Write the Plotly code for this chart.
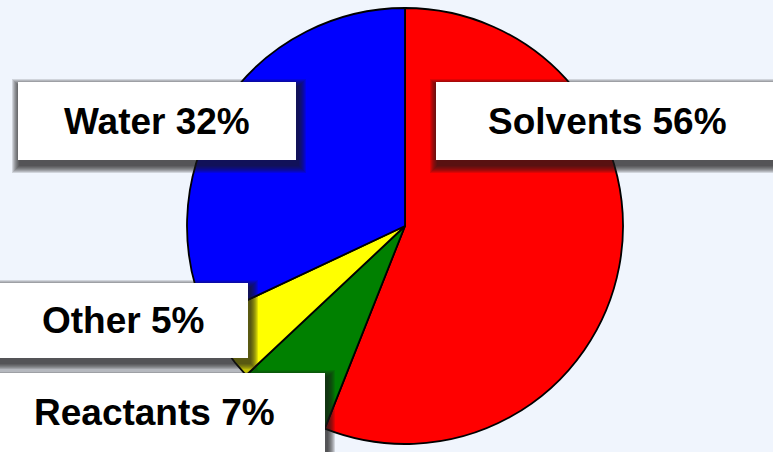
import plotly.graph_objects as go

# Share of each waste stream (percent)
categories = ["Solvents", "Reactants", "Other", "Water"]
shares = [56, 7, 5, 32]

slice_colors = ["#FF0000", "#008000", "#FFFF00", "#0000FF"]

W, H = 773, 452
BG = "#F0F5FD"


def px(x):
    return x / W


def py(y):
    return 1 - y / H


fig = go.Figure(
    go.Pie(
        labels=categories,
        values=shares,
        sort=False,
        direction="clockwise",
        rotation=0,
        textinfo="none",
        marker=dict(colors=slice_colors, line=dict(color="black", width=1.8)),
        domain=dict(x=[px(187), px(623)], y=[py(444), py(8)]),
        showlegend=False,
    )
)

# Callout boxes: (left, top, right, bottom) in pixels, text centre
boxes = {
    "Water": ((18, 82, 296, 160), (157, 121)),
    "Solvents": ((436, 82, 790, 160), (607, 121)),
    "Other": ((-20, 283, 248, 358), (123, 320)),
    "Reactants": ((-20, 373, 325, 470), (154, 412)),
}

shapes = []
annotations = []
for cat, val in zip(categories, shares):
    (x0, y0, x1, y1), (tx, ty) = boxes[cat]
    # soft drop shadow built from stacked translucent rectangles
    for k in range(8):
        g = 8 - k
        shapes.append(dict(
            type="rect", xref="paper", yref="paper", layer="above",
            x0=px(x0 - g + 2), x1=px(x1 + g + 2),
            y0=py(y1 + g + 5), y1=py(y0 + 5 - g),
            fillcolor="rgba(30,30,30,0.15)", line=dict(width=0),
        ))
    shapes.append(dict(
        type="rect", xref="paper", yref="paper", layer="above",
        x0=px(x0), x1=px(x1), y0=py(y1), y1=py(y0),
        fillcolor="white", line=dict(width=0),
    ))
    annotations.append(dict(
        text=f"<b>{cat} {val}%</b>", xref="paper", yref="paper",
        x=px(tx), y=py(ty), xanchor="center", yanchor="middle",
        showarrow=False,
        font=dict(family="Liberation Sans, Arial, sans-serif", size=37, color="black"),
    ))

fig.update_layout(
    width=W, height=H,
    margin=dict(l=0, r=0, t=0, b=0),
    paper_bgcolor=BG, plot_bgcolor=BG,
    shapes=shapes, annotations=annotations,
)

fig.write_html("out.html")
